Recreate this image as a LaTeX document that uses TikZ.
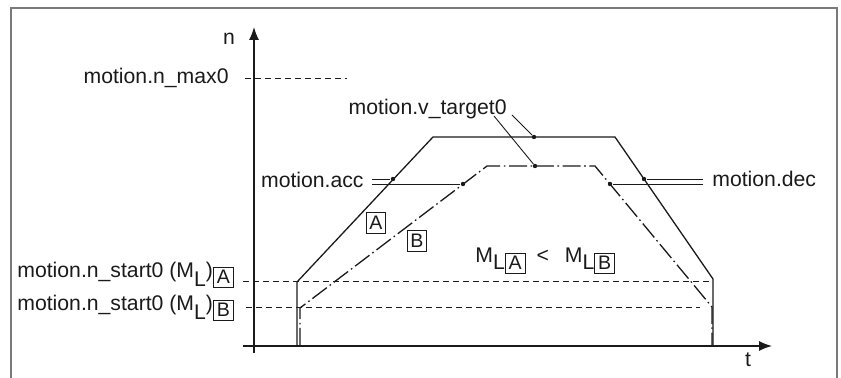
\documentclass[tikz,border=0pt]{standalone}
\usepackage{fontspec}
\setmainfont{Liberation Sans}
\usetikzlibrary{arrows.meta}
\definecolor{ink}{HTML}{1A1A1A}
\definecolor{rim}{HTML}{7A7A7A}
\setlength{\fboxsep}{1.4pt}
\setlength{\fboxrule}{0.5pt}
\newcommand{\tagbox}[1]{\fbox{\fontsize{9.8}{10}\selectfont #1}}
\tikzset{
  axis/.style   = {-{Latex[length=6.5pt,width=5pt]}, draw=ink, line width=0.7pt},
  runA/.style   = {draw=ink, line width=0.65pt},
  runB/.style   = {draw=ink, line width=0.65pt,
                   dash pattern=on 9pt off 1.8pt on 0.8pt off 1.8pt},
  guide/.style  = {draw=ink, line width=0.5pt, dash pattern=on 3pt off 2pt},
  leader/.style = {draw=ink, line width=0.45pt},
  spot/.style   = {circle, fill=ink, inner sep=0pt, minimum size=2.2pt},
  lbl/.style    = {inner sep=0pt, font=\fontsize{10.6}{12}\selectfont, text=ink},
}

\begin{document}
\begin{tikzpicture}[x=0.5pt, y=-0.5pt]
\useasboundingbox (0,0) rectangle (841,378);

% frame
\draw[rim, line width=1pt] (11,378) -- (11,8) -- (837,8) -- (837,378);

% axes
\draw[axis] (254,353) -- (254,27);
\draw[axis] (243,346) -- (772,346);
\node[lbl, anchor=base] (nlab) at (229,45) {n};
\node[lbl, anchor=base] (tlab) at (748,367) {t};

% levels
\node[lbl, anchor=base east] (nmax) at (229,84) {motion.n\_max0};
\node[lbl, anchor=base west] (startA) at (17,278)
  {motion.n\_start0 (M\raisebox{-4.5pt}{L})\raisebox{-3pt}{\tagbox{A}}};
\node[lbl, anchor=base west] (startB) at (17,311)
  {motion.n\_start0 (M\raisebox{-4.5pt}{L})\raisebox{-3pt}{\tagbox{B}}};
\draw[guide] (245,79) -- (347,79);
\draw[guide] (243,282) -- (713,282);
\draw[guide] (246,308) -- (700,308);

% profiles
\draw[runA] (297,346) -- (297,282) -- (433,137) -- (615,137) -- (713,279) -- (713,346);
\draw[runB] (300,346) -- (300,308) -- (487,166) -- (595,166) -- (712,307) -- (712,346);

\node[spot] (dA1) at (393,179) {};
\node[spot] (dB1) at (463,184) {};
\node[spot] (dA2) at (534,137) {};
\node[spot] (dB2) at (535,166) {};
\node[spot] (dA3) at (644,179) {};
\node[spot] (dB3) at (610,184) {};

\node[inner sep=0pt, text=ink] (tagA) at (376,223) {\tagbox{A}};
\node[inner sep=0pt, text=ink] (tagB) at (417,241) {\tagbox{B}};
\node[lbl, anchor=base west] (ratio) at (475,263)
  {M\raisebox{-3.5pt}{L\tagbox{A}}\hspace{5.5pt}<\hspace{8pt}M\raisebox{-3.5pt}{L\tagbox{B}}};

% parameter labels
\node[lbl, anchor=base east, inner xsep=4pt] (acc) at (372,188) {motion.acc};
\node[lbl, anchor=base west, inner xsep=4.5pt] (dec) at (703,187) {motion.dec};
\node[lbl, anchor=base east] (vt) at (507,115) {motion.v\_target0};

\draw[leader] (acc.east |- dA1) -- (dA1);
\draw[leader] (acc.east |- dB1) -- (dB1);
\draw[leader] (dec.west |- dA3) -- (dA3);
\draw[leader] (dec.west |- dB3) -- (dB3);
\draw[leader] ([xshift=2.5pt]vt.base east) -- (dA2);
\draw[leader] ([xshift=-6.5pt,yshift=-0.5pt]vt.base east) -- (dB2);

\end{tikzpicture}
\end{document}
